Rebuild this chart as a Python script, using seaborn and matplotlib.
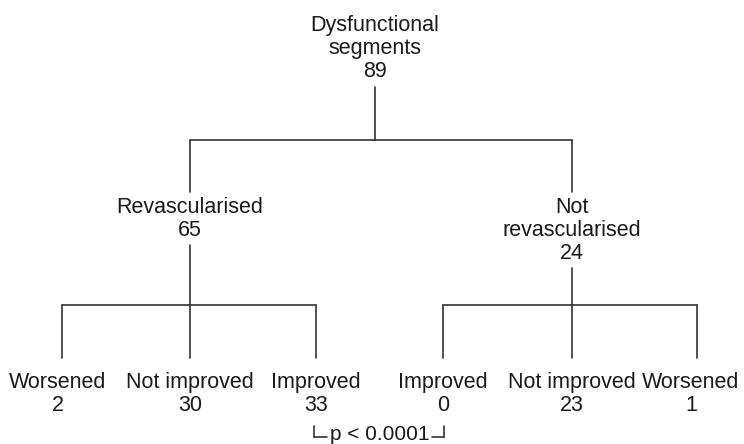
import matplotlib
matplotlib.use("Agg")
import matplotlib.pyplot as plt
import seaborn as sns
import pandas as pd

# ---- data ----
root_label = ["Dysfunctional", "segments"]
root_n = 89
group_labels = [["Revascularised"], ["Not", "revascularised"]]
group_n = [65, 24]
outcome_labels = [["Worsened", "Not improved", "Improved"],
                  ["Improved", "Not improved", "Worsened"]]
outcome_n = [[2, 30, 33], [0, 23, 1]]
p_text = "p < 0.0001"

# ---- layout (pixels) ----
W, H = 744, 444
root_x = 375
group_x = [190, 572]
outcome_x = [[62, 190, 316], [443, 572, 697]]
outcome_text_dx = [[-4, 0, 0], [0, 0, -6]]
root_top = 31
group_top = 213
outcome_top = 388
step = 23
bar1_y = 140
bar2_y = 305
leaf_top = 358

sns.set_theme(style="white")
plt.rcParams["font.family"] = ["Liberation Sans", "DejaVu Sans"]

fig = plt.figure(figsize=(W / 100, H / 100), dpi=100)
ax = fig.add_axes([0, 0, 1, 1])
ax.set_xlim(0, W)
ax.set_ylim(H, 0)
ax.axis("off")

txt_kw = dict(ha="center", va="baseline", fontsize=15.5, color="#1a1a1a")
line_color = "#333333"

def stack(x, top, lines):
    for i, s in enumerate(lines):
        ax.text(x, top + i * step, s, **txt_kw)
    return top + (len(lines) - 1) * step

segs = []
def seg(x0, y0, x1, y1):
    sid = len(segs)
    segs.append({"seg": sid, "x": x0, "y": y0, "o": 0})
    segs.append({"seg": sid, "x": x1, "y": y1, "o": 1})

# root
last = stack(root_x, root_top, root_label + [str(root_n)])
seg(root_x, last + 10, root_x, bar1_y)
seg(group_x[0], bar1_y, group_x[1], bar1_y)

# groups
for gi, gx in enumerate(group_x):
    lines = group_labels[gi] + [str(group_n[gi])]
    seg(gx, bar1_y, gx, group_top - 21)
    last = stack(gx, group_top, lines)
    seg(gx, last + 9, gx, bar2_y)
    xs = outcome_x[gi]
    seg(xs[0], bar2_y, xs[-1], bar2_y)
    for oi, ox in enumerate(xs):
        seg(ox, bar2_y, ox, leaf_top)
        stack(ox + outcome_text_dx[gi][oi], outcome_top,
              [outcome_labels[gi][oi], str(outcome_n[gi][oi])])

# p-value bracket
xl = outcome_x[0][2] - 2
xr = outcome_x[1][0] + 1
by0, by1 = 426, 437
seg(xl, by0, xl, by1)
seg(xl, by1, xl + 13, by1)
seg(xr, by0, xr, by1)
seg(xr, by1, xr - 12, by1)
ax.text((xl + xr) / 2 + 1, 440, p_text, ha="center", va="baseline",
        fontsize=15, color="#1a1a1a")

df = pd.DataFrame(segs)
sns.lineplot(data=df, x="x", y="y", units="seg", estimator=None, sort=False,
             color=line_color, linewidth=1.2, ax=ax, legend=False)
ax.set_xlim(0, W)
ax.set_ylim(H, 0)
ax.axis("off")

fig.savefig("out.png", dpi=100, facecolor="white")
